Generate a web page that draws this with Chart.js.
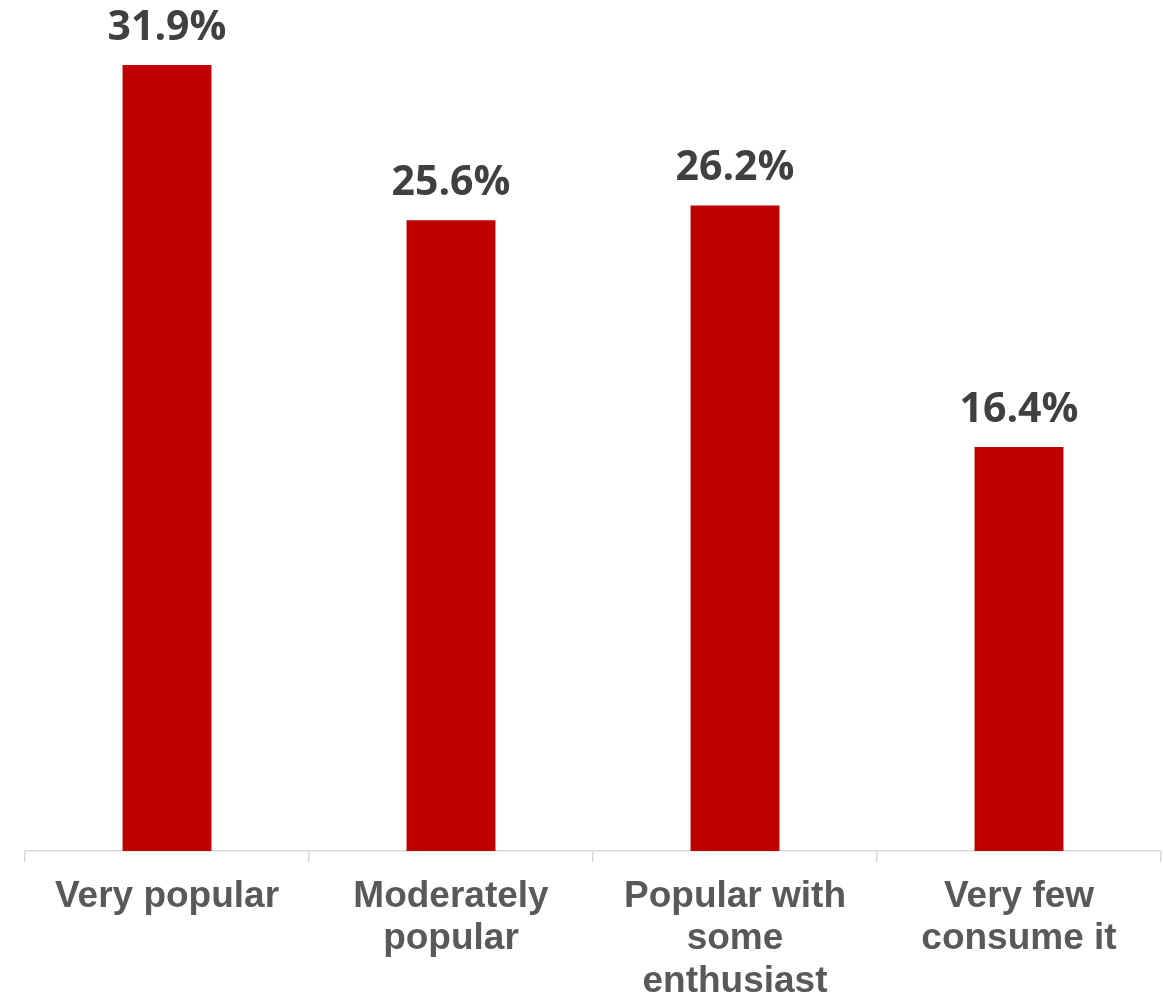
<!DOCTYPE html>
<html>
<head>
<meta charset="utf-8">
<script src="https://cdn.jsdelivr.net/npm/chart.js@4/dist/chart.umd.min.js"></script>
<style>
html,body{margin:0;padding:0;background:#fff;}
#wrap{width:1163px;height:996px;position:relative;}
</style>
</head>
<body>
<div id="wrap"><canvas id="c" width="1163" height="996"></canvas></div>
<script>
const categories = [["Very popular"], ["Moderately", "popular"], ["Popular with", "some", "enthusiast"], ["Very few", "consume it"]];
const values = [31.9, 25.6, 26.2, 16.4];
const valueLabels = ["31.9%", "25.6%", "26.2%", "16.4%"];

const labelPlugin = {
  id: 'valueLabels',
  afterDatasetsDraw(chart) {
    const ctx = chart.ctx;
    const meta = chart.getDatasetMeta(0);
    ctx.save();
    ctx.font = 'bold 41px "Open Sans", sans-serif';
    ctx.fillStyle = '#404040';
    ctx.textAlign = 'center';
    ctx.textBaseline = 'alphabetic';
    meta.data.forEach((bar, i) => {
      ctx.fillText(valueLabels[i], bar.x, bar.y - 25);
    });
    ctx.restore();
  }
};

new Chart(document.getElementById('c'), {
  type: 'bar',
  data: {
    labels: categories,
    datasets: [{
      data: values,
      backgroundColor: '#C00000',
      borderWidth: 0,
      categoryPercentage: 1,
      barPercentage: 0.313
    }]
  },
  options: {
    responsive: false,
    animation: false,
    layout: { padding: { left: 25, right: 2, top: 0, bottom: 0 } },
    plugins: { legend: { display: false }, tooltip: { enabled: false } },
    scales: {
      y: { display: false, min: 0, max: 34.54 },
      x: {
        afterFit(s) { s.height = 145; },
        grid: { offset: true, drawOnChartArea: false, tickLength: 11, color: '#d9d9d9', lineWidth: 1.5 },
        border: { color: '#d9d9d9', width: 1.5 },
        ticks: {
          padding: 14,
          maxRotation: 0,
          autoSkip: false,
          color: '#595959',
          font: { family: '"Liberation Sans", Arial, sans-serif', size: 37, weight: 'bold', lineHeight: 1.14 }
        }
      }
    }
  },
  plugins: [labelPlugin]
});
</script>
</body>
</html>
